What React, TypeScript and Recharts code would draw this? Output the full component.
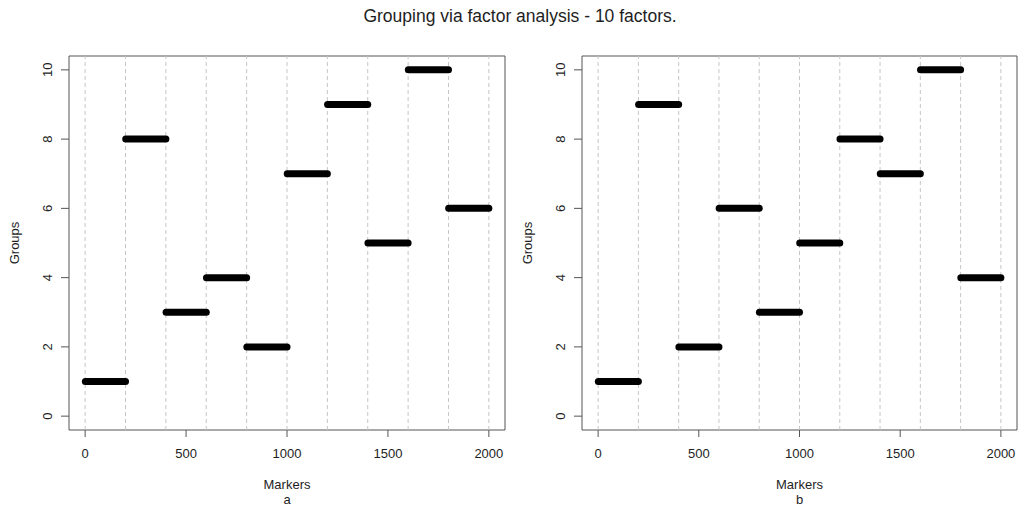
import { Label, Line, LineChart, ReferenceArea, ReferenceLine, XAxis, YAxis } from "recharts";

// marker index ranges, one block per factor
const markerRanges: [number, number][] = [
  [1, 200],
  [201, 400],
  [401, 600],
  [601, 800],
  [801, 1000],
  [1001, 1200],
  [1201, 1400],
  [1401, 1600],
  [1601, 1800],
  [1801, 2000],
];

// group assigned to each block
const groupsA = [1, 8, 3, 4, 2, 7, 9, 5, 10, 6];
const groupsB = [1, 9, 2, 6, 3, 5, 8, 7, 10, 4];

const xTicks = [0, 500, 1000, 1500, 2000];
const yTicks = [0, 2, 4, 6, 8, 10];
const gridX = [0, 200, 400, 600, 800, 1000, 1200, 1400, 1600, 1800, 2000];

const X_DOMAIN: [number, number] = [-80, 2080];
const Y_DOMAIN: [number, number] = [-0.4, 10.4];

const FONT = "'Liberation Sans', Arial, Helvetica, sans-serif";
const TEXT = "#1e1e1e";
const AXIS = "#555";

function YTick({ x, y, payload }: any) {
  return (
    <text
      x={x}
      y={y}
      transform={`rotate(-90 ${x} ${y})`}
      textAnchor="middle"
      fontSize={13}
      fontFamily={FONT}
      fill={TEXT}
    >
      {payload.value}
    </text>
  );
}

function Panel({
  groups,
  caption,
  yAxisWidth,
  rightMargin,
}: {
  groups: number[];
  caption: string;
  yAxisWidth: number;
  rightMargin: number;
}) {
  return (
    <LineChart
      width={509}
      height={507}
      margin={{ top: 56, right: rightMargin, bottom: 0, left: 0 }}
    >
      <XAxis
        type="number"
        dataKey="x"
        domain={X_DOMAIN}
        ticks={xTicks}
        allowDataOverflow
        height={77}
        axisLine={false}
        tickSize={7}
        tickMargin={12}
        tickLine={{ stroke: AXIS }}
        tick={{ fontSize: 13, fill: TEXT, fontFamily: FONT }}
      >
        <Label
          content={({ viewBox }: any) => {
            const cx = viewBox.x + viewBox.width / 2;
            return (
              <g fontFamily={FONT} fontSize={13} fill={TEXT} textAnchor="middle">
                <text x={cx} y={489}>Markers</text>
                <text x={cx} y={504}>{caption}</text>
              </g>
            );
          }}
        />
      </XAxis>
      <YAxis
        type="number"
        domain={Y_DOMAIN}
        ticks={yTicks}
        interval={0}
        allowDataOverflow
        width={yAxisWidth}
        axisLine={false}
        tickSize={8}
        tickMargin={9}
        tickLine={{ stroke: AXIS }}
        tick={<YTick />}
      >
        <Label
          content={({ viewBox }: any) => {
            const x = viewBox.x + viewBox.width - 50;
            const y = viewBox.y + viewBox.height / 2;
            return (
              <text
                x={x}
                y={y}
                transform={`rotate(-90 ${x} ${y})`}
                textAnchor="middle"
                fontSize={13}
                fontFamily={FONT}
                fill={TEXT}
              >
                Groups
              </text>
            );
          }}
        />
      </YAxis>
      {gridX.map((v) => (
        <ReferenceLine key={v} x={v} stroke="#c6c6c6" strokeDasharray="4 3" />
      ))}
      {markerRanges.map(([from, to], i) => (
        <Line
          key={i}
          data={[
            { x: from, y: groups[i] },
            { x: to, y: groups[i] },
          ]}
          dataKey="y"
          stroke="#000"
          strokeWidth={7}
          strokeLinecap="round"
          dot={false}
          activeDot={false}
          isAnimationActive={false}
        />
      ))}
      <ReferenceArea
        x1={X_DOMAIN[0]}
        x2={X_DOMAIN[1]}
        y1={Y_DOMAIN[0]}
        y2={Y_DOMAIN[1]}
        fill="none"
        fillOpacity={0}
        stroke={AXIS}
        strokeWidth={1}
      />
    </LineChart>
  );
}

export default function App() {
  return (
    <div
      style={{
        position: "absolute",
        top: 0,
        left: 0,
        width: 1018,
        height: 507,
        background: "#fff",
        fontFamily: FONT,
        overflow: "hidden",
      }}
    >
      <svg width={1018} height={40} style={{ position: "absolute", top: 0, left: 0 }}>
        <text x={520} y={22} textAnchor="middle" fontSize={17.5} fontFamily={FONT} fill={TEXT}>
          Grouping via factor analysis - 10 factors.
        </text>
      </svg>
      <div style={{ position: "absolute", top: 0, left: 0 }}>
        <Panel groups={groupsA} caption="a" yAxisWidth={69} rightMargin={4} />
      </div>
      <div style={{ position: "absolute", top: 0, left: 509 }}>
        <Panel groups={groupsB} caption="b" yAxisWidth={73} rightMargin={1} />
      </div>
    </div>
  );
}
